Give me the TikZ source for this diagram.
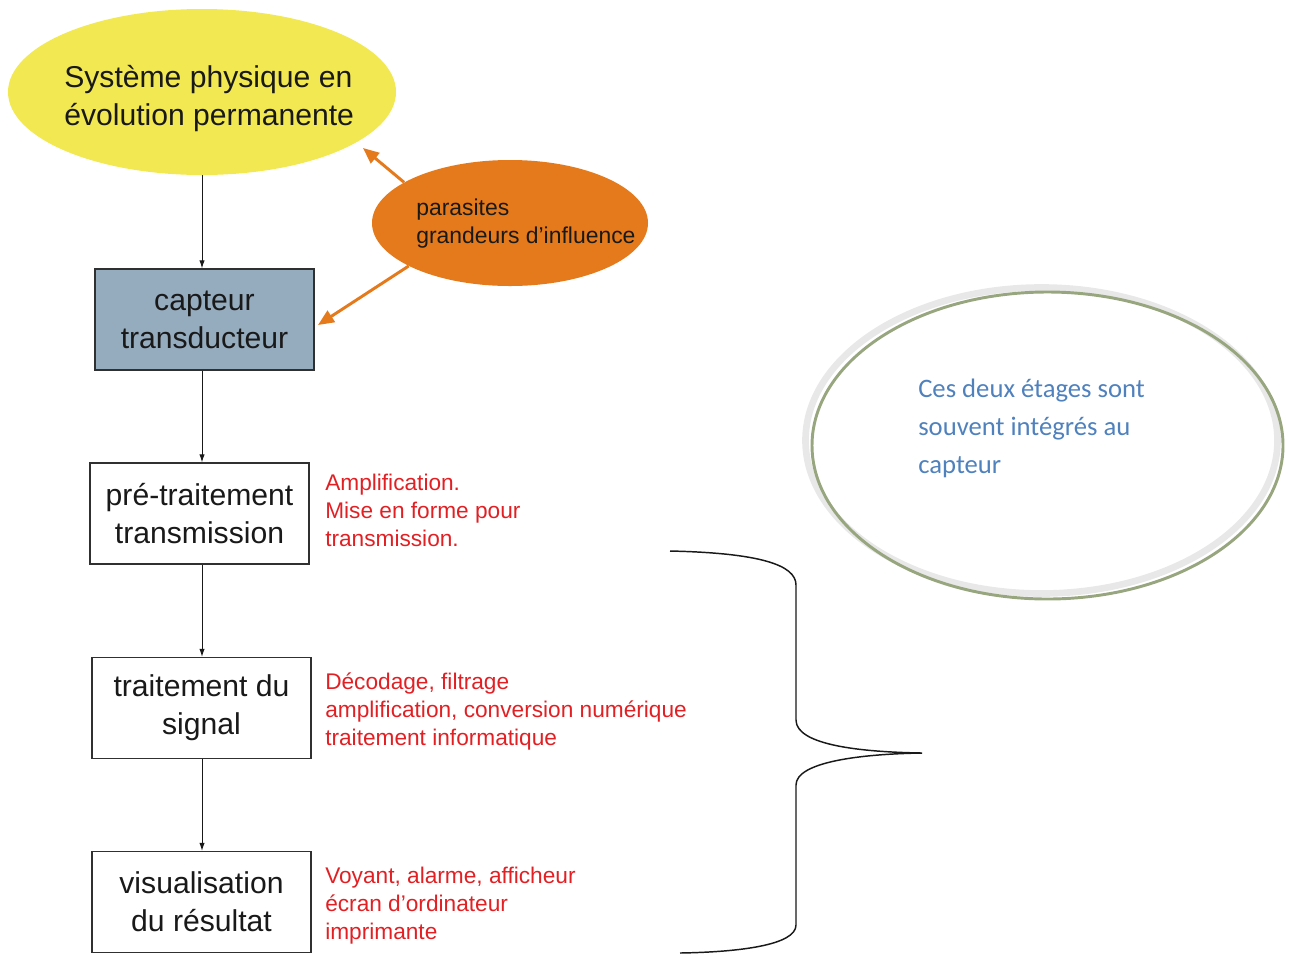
\documentclass[tikz,border=0pt]{standalone}
\usepackage{fontspec}
\setmainfont{Liberation Sans}
\newfontfamily\calib{Carlito}
\usetikzlibrary{shapes.geometric,arrows.meta}
\definecolor{yel}{RGB}{242,232,82}
\definecolor{ora}{RGB}{229,122,28}
\definecolor{capf}{RGB}{149,171,190}
\definecolor{redt}{RGB}{226,32,36}
\definecolor{bluet}{RGB}{79,129,189}
\definecolor{grn}{RGB}{152,166,128}
\definecolor{txt}{RGB}{25,25,25}
\tikzset{
  boxst/.style={draw=txt!90, line width=0.9pt, minimum width=164.25pt, minimum height=75.75pt, inner sep=0pt, align=center, text=txt, font=\fontsize{22.6}{28.5}\selectfont},
  arr/.style={draw=txt, line width=0.75pt, -{Latex[length=6pt,width=4pt]}},
  oarr/.style={draw=ora, line width=2.2pt, -{Triangle[length=12pt,width=10pt]}},
  redtx/.style={anchor=base west, align=left, inner sep=0pt, text=redt, font=\fontsize{17}{21}\selectfont},
}
\begin{document}
\begin{tikzpicture}[x=0.75pt,y=-0.75pt]
\useasboundingbox (0,0) rectangle (1294,954);
% yellow ellipse
\node[ellipse, fill=yel, minimum width=291pt, minimum height=124.5pt, inner sep=0pt] (sys) at (202,92) {};
\node[anchor=base west, align=left, inner sep=0pt, text=txt, font=\fontsize{22.6}{28.5}\selectfont] (systx) at (64,125) {Système physique en\\évolution permanente};
% orange ellipse
\node[ellipse, fill=ora, minimum width=207pt, minimum height=94.5pt, inner sep=0pt] (par) at (510,223) {};
\node[anchor=base west, align=left, inner sep=0pt, text=txt, font=\fontsize{17.2}{21}\selectfont] (partx) at (416,243) {parasites\\grandeurs d’influence};
% boxes
\node[boxst, fill=capf] (cap) at (204.5,319.5) {capteur\\transducteur};
\node[boxst, fill=white] (pre) at (199.5,513.5) {pré-traitement\\transmission};
\node[boxst, fill=white] (trt) at (201.5,708) {traitement du\\signal};
\node[boxst, fill=white] (vis) at (201.5,902) {visualisation\\du résultat};
% arrows
\coordinate (ax) at (202,0);
\draw[arr] (sys.south -| ax) -- (cap.north -| ax);
\draw[arr] (cap.south -| ax) -- (pre.north -| ax);
\draw[arr] (pre.south -| ax) -- (trt.north -| ax);
\draw[arr] (trt.south -| ax) -- (vis.north -| ax);
\coordinate (t1) at (363,148);
\draw[oarr] (par.159) -- (t1);
\draw[oarr, shorten >=3pt] (par.203) -- (cap.-4);
% red texts
\node[redtx] (r1) at (325,546) {Amplification.\\Mise en forme pour\\transmission.};
\node[redtx] (r2) at (325,745) {Décodage, filtrage\\amplification, conversion numérique\\traitement informatique};
\node[redtx] (r3) at (325,939) {Voyant, alarme, afficheur\\écran d’ordinateur\\imprimante};
% brace
\draw[line width=1.1pt, txt] (670,551) .. controls (760,553) and (796,565) .. (796,585) -- (796,720)
  .. controls (796,745) and (860,752) .. (922,753)
  .. controls (860,754) and (796,762) .. (796,785) -- (796,925)
  .. controls (796,945) and (740,952) .. (680,953);
% big ellipse
\draw[line width=5pt, black!9] (1041.5,440.5) ellipse [x radius=236, y radius=153];
\draw[line width=2.2pt, grn] (1047.5,445.5) ellipse [x radius=235.5, y radius=153.5];
\node[anchor=base west, align=left, inner sep=0pt, text=bluet, font=\calib\fontsize{20}{28.2}\selectfont] (note) at (918,473) {Ces deux étages sont\\souvent intégrés au\\capteur};
\end{tikzpicture}
\end{document}
